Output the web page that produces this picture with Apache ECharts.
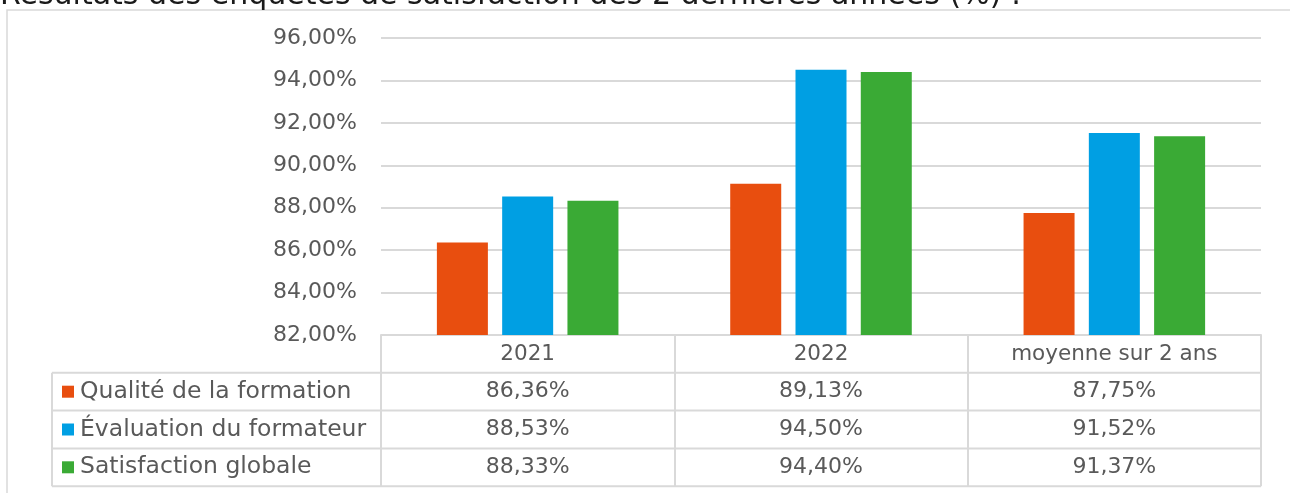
<!DOCTYPE html>
<html>
<head>
<meta charset="utf-8">
<script src="https://cdn.jsdelivr.net/npm/echarts@6/dist/echarts.min.js"></script>
<style>
html,body{margin:0;padding:0;background:#fff;}
#c{width:1290px;height:493px;}
</style>
</head>
<body>
<div id="c"></div>
<script>
var titleText = 'Résultats des enquêtes de satisfaction des 2 dernières années (%) :';
var categories = ['2021', '2022', 'moyenne sur 2 ans'];
var seriesNames = ['Qualité de la formation', 'Évaluation du formateur', 'Satisfaction globale'];
var qualite = [86.36, 89.13, 87.75];
var evaluation = [88.53, 94.50, 91.52];
var satisfaction = [88.33, 94.40, 91.37];
var yTicks = { min: 82, max: 96, interval: 2 };
var colors = ['#E84E0F', '#009FE3', '#3AAA35'];

var FONT = 'DejaVu Sans';
var TXT = '#595959';
var LINE = '#d9d9d9';
function fmt(v){ return v.toFixed(2).replace('.', ',') + '%'; }

var chart = echarts.init(document.getElementById('c'), null, {renderer:'canvas'});
var allSeries = [qualite, evaluation, satisfaction];

var gridLeft = 381, gridRight = 1261, gridTop = 38, gridBottom = 335;
var rowH = 37.8;

chart.setOption({
  animation: false,
  grid: { left: gridLeft, right: 1290 - gridRight, top: gridTop, bottom: 493 - gridBottom, containLabel: false },
  xAxis: {
    type: 'category',
    data: categories,
    axisLine: { show: true, lineStyle: { color: LINE, width: 2 } },
    axisTick: { show: true, length: rowH * 4, lineStyle: { color: LINE, width: 2 } },
    axisLabel: { color: TXT, fontFamily: FONT, fontSize: 21.5, margin: 8 }
  },
  yAxis: {
    type: 'value',
    min: yTicks.min, max: yTicks.max, interval: yTicks.interval,
    axisLine: { show: false },
    axisTick: { show: false },
    splitLine: { lineStyle: { color: LINE, width: 2 } },
    axisLabel: { color: TXT, fontFamily: FONT, fontSize: 22, margin: 24, formatter: function(v){ return fmt(v); } }
  },
  series: seriesNames.map(function(n, i){
    return {
      name: n, type: 'bar', data: allSeries[i], barWidth: 51, barGap: '28%',
      itemStyle: { color: colors[i] }
    };
  })
});

var g = [];
g.push({ type: 'rect', shape: { x: 7, y: 10, width: 1300, height: 600 }, style: { fill: 'none', stroke: LINE, lineWidth: 1.5 }, silent: true });
g.push({ type: 'text', x: 0, y: -4, style: { text: titleText, font: '30px "' + FONT + '"', fill: '#1a1a1a', textAlign: 'left', textVerticalAlign: 'middle' }, silent: true });

var tableLeft = 52;
for (var r = 1; r <= 4; r++) {
  var yy = gridBottom + rowH * r;
  g.push({ type: 'line', shape: { x1: tableLeft, y1: yy, x2: gridRight, y2: yy }, style: { stroke: LINE, lineWidth: 2 }, silent: true });
}
g.push({ type: 'line', shape: { x1: tableLeft, y1: gridBottom + rowH, x2: tableLeft, y2: gridBottom + rowH * 4 }, style: { stroke: LINE, lineWidth: 2 }, silent: true });

for (var s = 0; s < 3; s++) {
  var cy = gridBottom + rowH * (s + 1.5);
  g.push({ type: 'rect', shape: { x: 62, y: cy - 6, width: 12, height: 12 }, style: { fill: colors[s] }, silent: true });
  g.push({ type: 'text', x: 80, y: cy, style: { text: seriesNames[s], font: '23.5px "' + FONT + '"', fill: TXT, textAlign: 'left', textVerticalAlign: 'middle' }, silent: true });
  for (var c = 0; c < categories.length; c++) {
    var px = chart.convertToPixel({ xAxisIndex: 0 }, categories[c]);
    g.push({ type: 'text', x: px, y: cy, style: { text: fmt(allSeries[s][c]), font: '22px "' + FONT + '"', fill: TXT, textAlign: 'center', textVerticalAlign: 'middle' }, silent: true });
  }
}
chart.setOption({ graphic: g });
</script>
</body>
</html>
